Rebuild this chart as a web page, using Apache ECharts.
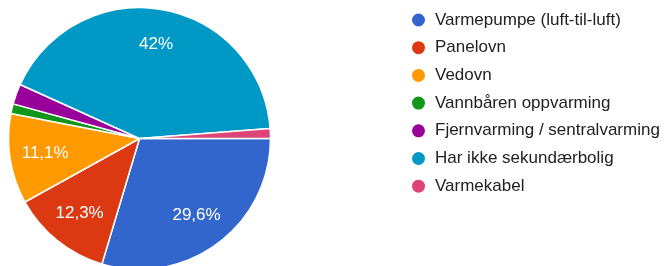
<!DOCTYPE html>
<html>
<head>
<meta charset="utf-8">
<script src="https://cdn.jsdelivr.net/npm/echarts@6/dist/echarts.min.js"></script>
<style>
  html, body { margin: 0; padding: 0; background: #fff; }
  #chart { width: 667px; height: 266px; }
</style>
</head>
<body>
<div id="chart"></div>
<script>
// data
var categories = [
  'Varmepumpe (luft-til-luft)',
  'Panelovn',
  'Vedovn',
  'Vannbåren oppvarming',
  'Fjernvarming / sentralvarming',
  'Har ikke sekundærbolig',
  'Varmekabel'
];
var values = [29.6, 12.3, 11.1, 1.2, 2.5, 42, 1.2];
var colors = ['#3366cc', '#dc3912', '#ff9900', '#109618', '#990099', '#0099c6', '#dd4477'];

var pieData = categories.map(function (name, i) {
  return { name: name, value: values[i] };
});

function fmtPct(p) {
  // norsk desimalkomma
  return p.toString().replace('.', ',') + '%';
}

var myChart = echarts.init(document.getElementById('chart'));
var option = {
  color: colors,
  animation: false,
  legend: {
    orient: 'vertical',
    left: 405,
    top: 6.5,
    icon: 'circle',
    itemWidth: 15,
    itemHeight: 15,
    itemGap: 10.7,
    data: categories,
    textStyle: {
      fontFamily: 'Liberation Sans, Arial, sans-serif',
      fontSize: 17,
      lineHeight: 15,
      color: '#222',
      padding: [0, 0, 0, 4]
    }
  },
  series: [
    {
      name: 'slices',
      type: 'pie',
      center: [139.5, 138.5],
      radius: 131,
      startAngle: 0,
      clockwise: true,
      silent: true,
      data: pieData,
      label: { show: false },
      labelLine: { show: false },
      itemStyle: { borderColor: '#fff', borderWidth: 1.5 }
    },
    {
      // bare for etikettene
      name: 'labels',
      type: 'pie',
      center: [139.5, 138.5],
      radius: [54, 131],
      startAngle: 0,
      clockwise: true,
      silent: true,
      data: pieData,
      itemStyle: { color: 'transparent' },
      labelLine: { show: false },
      label: {
        show: true,
        position: 'inside',
        color: '#fff',
        fontFamily: 'Liberation Sans, Arial, sans-serif',
        fontSize: 17,
        formatter: function (p) {
          return p.value >= 5 ? fmtPct(p.value) : '';
        }
      }
    }
  ]
};
myChart.setOption(option);
</script>
</body>
</html>
